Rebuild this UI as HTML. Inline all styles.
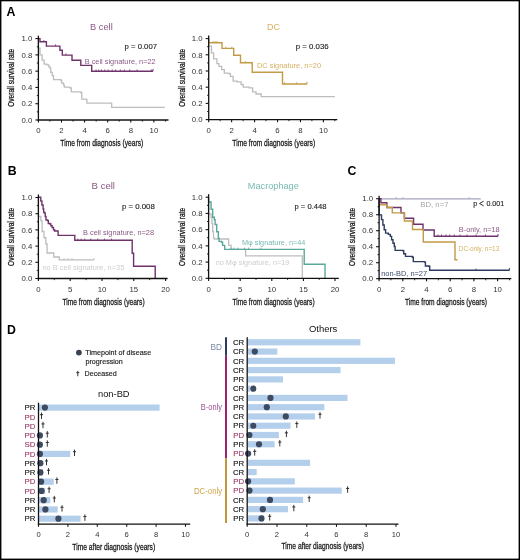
<!DOCTYPE html><html><head><meta charset="utf-8"><style>html,body{margin:0;padding:0;background:#fff;}svg{display:block;will-change:transform;}text{font-family:"Liberation Sans",sans-serif;}</style></head><body>
<svg width="520" height="560" viewBox="0 0 520 560">
<rect x="0" y="0" width="520" height="560" fill="#fff"/>
<text x="6.60" y="15.80" font-size="12.3" fill="#000" font-weight="bold">A</text>
<text x="7.80" y="174.70" font-size="12.3" fill="#000" font-weight="bold">B</text>
<text x="347.60" y="175.20" font-size="12.3" fill="#000" font-weight="bold">C</text>
<text x="7.00" y="333.60" font-size="12.3" fill="#000" font-weight="bold">D</text>
<text x="90.00" y="30.40" font-size="9.4" fill="#8a5884" textLength="22.70" lengthAdjust="spacingAndGlyphs">B cell</text>
<text x="124.60" y="48.70" font-size="7.4" fill="#222" textLength="32.40" lengthAdjust="spacingAndGlyphs" stroke="#222" stroke-width="0.12">p = 0.007</text>
<text x="84.70" y="63.70" font-size="7.4" fill="#8a5884" textLength="71.00" lengthAdjust="spacingAndGlyphs">B cell signature, n=22</text>
<path d="M38.40,38.60H38.40V48.10H40.00V54.80H42.10V60.20H44.10V64.20H46.80V64.90H48.80V66.90H50.10V68.30H50.80V72.30H52.20V75.70H53.50V79.70H60.90V80.40H61.60V83.10H63.60V85.10H64.30V87.10H69.60V87.80H71.30V91.80H80.40V92.50H81.80V99.20H86.50V99.90H86.90V103.20H111.70V103.20H111.70V107.30H164.80V107.30" fill="none" stroke="#bdbdbd" stroke-width="1.3" stroke-linejoin="miter" stroke-linecap="butt"/>
<path d="M38.40,38.60H40.00V38.60H40.00V41.80H46.40V41.80H46.40V46.10H59.90V46.10H59.90V50.20H62.30V50.20H62.30V55.10H72.00V55.10H72.00V60.30H80.80V60.30H80.80V65.40H91.70V65.40H91.70V71.20H153.00V71.20" fill="none" stroke="#70326a" stroke-width="1.4" stroke-linejoin="miter" stroke-linecap="butt"/>
<line x1="43.80" y1="40.00" x2="43.80" y2="41.80" stroke="#70326a" stroke-width="0.8"/>
<line x1="55.60" y1="44.30" x2="55.60" y2="46.10" stroke="#70326a" stroke-width="0.8"/>
<line x1="66.00" y1="53.30" x2="66.00" y2="55.10" stroke="#70326a" stroke-width="0.8"/>
<line x1="96.10" y1="69.40" x2="96.10" y2="71.20" stroke="#70326a" stroke-width="0.8"/>
<line x1="98.80" y1="69.40" x2="98.80" y2="71.20" stroke="#70326a" stroke-width="0.8"/>
<line x1="101.50" y1="69.40" x2="101.50" y2="71.20" stroke="#70326a" stroke-width="0.8"/>
<line x1="104.80" y1="69.40" x2="104.80" y2="71.20" stroke="#70326a" stroke-width="0.8"/>
<line x1="108.20" y1="69.40" x2="108.20" y2="71.20" stroke="#70326a" stroke-width="0.8"/>
<line x1="112.20" y1="69.40" x2="112.20" y2="71.20" stroke="#70326a" stroke-width="0.8"/>
<line x1="115.60" y1="69.40" x2="115.60" y2="71.20" stroke="#70326a" stroke-width="0.8"/>
<line x1="120.30" y1="69.40" x2="120.30" y2="71.20" stroke="#70326a" stroke-width="0.8"/>
<line x1="124.30" y1="69.40" x2="124.30" y2="71.20" stroke="#70326a" stroke-width="0.8"/>
<line x1="129.70" y1="69.40" x2="129.70" y2="71.20" stroke="#70326a" stroke-width="0.8"/>
<line x1="137.10" y1="69.40" x2="137.10" y2="71.20" stroke="#70326a" stroke-width="0.8"/>
<line x1="151.30" y1="69.40" x2="151.30" y2="71.20" stroke="#70326a" stroke-width="0.8"/>
<line x1="153.00" y1="69.00" x2="153.00" y2="71.20" stroke="#70326a" stroke-width="1.0"/>
<line x1="38.40" y1="35.60" x2="38.40" y2="120.60" stroke="#111" stroke-width="1.3"/>
<line x1="37.80" y1="120.00" x2="168.50" y2="120.00" stroke="#111" stroke-width="1.3"/>
<line x1="35.40" y1="120.00" x2="38.40" y2="120.00" stroke="#111" stroke-width="1.1"/>
<text x="32.30" y="122.75" font-size="7.8" fill="#333" text-anchor="end">0.0</text>
<line x1="36.80" y1="111.86" x2="38.40" y2="111.86" stroke="#111" stroke-width="0.9"/>
<line x1="35.40" y1="103.72" x2="38.40" y2="103.72" stroke="#111" stroke-width="1.1"/>
<text x="32.30" y="106.47" font-size="7.8" fill="#333" text-anchor="end">0.2</text>
<line x1="36.80" y1="95.58" x2="38.40" y2="95.58" stroke="#111" stroke-width="0.9"/>
<line x1="35.40" y1="87.44" x2="38.40" y2="87.44" stroke="#111" stroke-width="1.1"/>
<text x="32.30" y="90.19" font-size="7.8" fill="#333" text-anchor="end">0.4</text>
<line x1="36.80" y1="79.30" x2="38.40" y2="79.30" stroke="#111" stroke-width="0.9"/>
<line x1="35.40" y1="71.16" x2="38.40" y2="71.16" stroke="#111" stroke-width="1.1"/>
<text x="32.30" y="73.91" font-size="7.8" fill="#333" text-anchor="end">0.6</text>
<line x1="36.80" y1="63.02" x2="38.40" y2="63.02" stroke="#111" stroke-width="0.9"/>
<line x1="35.40" y1="54.88" x2="38.40" y2="54.88" stroke="#111" stroke-width="1.1"/>
<text x="32.30" y="57.63" font-size="7.8" fill="#333" text-anchor="end">0.8</text>
<line x1="36.80" y1="46.74" x2="38.40" y2="46.74" stroke="#111" stroke-width="0.9"/>
<line x1="35.40" y1="38.60" x2="38.40" y2="38.60" stroke="#111" stroke-width="1.1"/>
<text x="32.30" y="41.35" font-size="7.8" fill="#333" text-anchor="end">1.0</text>
<line x1="38.40" y1="120.00" x2="38.40" y2="122.60" stroke="#111" stroke-width="1.1"/>
<text x="38.40" y="133.40" font-size="7.8" fill="#333" text-anchor="middle">0</text>
<line x1="49.95" y1="120.00" x2="49.95" y2="121.60" stroke="#111" stroke-width="0.9"/>
<line x1="61.50" y1="120.00" x2="61.50" y2="122.60" stroke="#111" stroke-width="1.1"/>
<text x="61.50" y="133.40" font-size="7.8" fill="#333" text-anchor="middle">2</text>
<line x1="73.05" y1="120.00" x2="73.05" y2="121.60" stroke="#111" stroke-width="0.9"/>
<line x1="84.60" y1="120.00" x2="84.60" y2="122.60" stroke="#111" stroke-width="1.1"/>
<text x="84.60" y="133.40" font-size="7.8" fill="#333" text-anchor="middle">4</text>
<line x1="96.15" y1="120.00" x2="96.15" y2="121.60" stroke="#111" stroke-width="0.9"/>
<line x1="107.70" y1="120.00" x2="107.70" y2="122.60" stroke="#111" stroke-width="1.1"/>
<text x="107.70" y="133.40" font-size="7.8" fill="#333" text-anchor="middle">6</text>
<line x1="119.25" y1="120.00" x2="119.25" y2="121.60" stroke="#111" stroke-width="0.9"/>
<line x1="130.80" y1="120.00" x2="130.80" y2="122.60" stroke="#111" stroke-width="1.1"/>
<text x="130.80" y="133.40" font-size="7.8" fill="#333" text-anchor="middle">8</text>
<line x1="142.35" y1="120.00" x2="142.35" y2="121.60" stroke="#111" stroke-width="0.9"/>
<line x1="153.90" y1="120.00" x2="153.90" y2="122.60" stroke="#111" stroke-width="1.1"/>
<text x="153.90" y="133.40" font-size="7.8" fill="#333" text-anchor="middle">10</text>
<line x1="165.45" y1="120.00" x2="165.45" y2="121.60" stroke="#111" stroke-width="0.9"/>
<text x="60.30" y="146.40" font-size="9.6" fill="#1a1a1a" textLength="83.00" lengthAdjust="spacingAndGlyphs" stroke="#1a1a1a" stroke-width="0.3">Time from diagnosis (years)</text>
<text x="0" y="0" font-size="9.6" fill="#1a1a1a" stroke="#1a1a1a" stroke-width="0.3" text-anchor="middle" textLength="58.05" lengthAdjust="spacingAndGlyphs" transform="translate(14.10,77.78) rotate(-90)">Overall survival rate</text>
<text x="267.10" y="30.20" font-size="9.4" fill="#d6b062" textLength="12.90" lengthAdjust="spacingAndGlyphs">DC</text>
<text x="295.80" y="49.00" font-size="7.4" fill="#222" textLength="32.90" lengthAdjust="spacingAndGlyphs" stroke="#222" stroke-width="0.12">p = 0.036</text>
<text x="257.00" y="68.00" font-size="7.4" fill="#d6b062" textLength="64.00" lengthAdjust="spacingAndGlyphs">DC signature, n=20</text>
<path d="M208.70,38.60H208.70V46.20H211.50V52.90H213.60V58.90H216.90V63.60H218.90V66.30H221.60V69.70H224.30V73.10H229.00V73.70H230.40V76.40H233.10V81.10H237.10V81.80H241.10V84.50H243.20V87.20H249.20V87.90H252.60V91.90H256.00V94.00H261.20V96.60H334.80V96.60" fill="none" stroke="#bdbdbd" stroke-width="1.3" stroke-linejoin="miter" stroke-linecap="butt"/>
<path d="M208.70,38.60H208.70V42.80H222.00V42.80H222.00V48.40H233.70V48.40H233.70V55.30H240.50V55.30H240.50V62.70H252.20V62.70H252.20V72.30H282.50V72.30H282.50V84.00H307.00V84.00" fill="none" stroke="#c39a48" stroke-width="1.4" stroke-linejoin="miter" stroke-linecap="butt"/>
<line x1="213.00" y1="41.00" x2="213.00" y2="42.80" stroke="#c39a48" stroke-width="0.8"/>
<line x1="215.00" y1="41.00" x2="215.00" y2="42.80" stroke="#c39a48" stroke-width="0.8"/>
<line x1="217.00" y1="41.00" x2="217.00" y2="42.80" stroke="#c39a48" stroke-width="0.8"/>
<line x1="225.90" y1="46.60" x2="225.90" y2="48.40" stroke="#c39a48" stroke-width="0.8"/>
<line x1="231.90" y1="46.60" x2="231.90" y2="48.40" stroke="#c39a48" stroke-width="0.8"/>
<line x1="245.40" y1="60.90" x2="245.40" y2="62.70" stroke="#c39a48" stroke-width="0.8"/>
<line x1="284.60" y1="82.20" x2="284.60" y2="84.00" stroke="#c39a48" stroke-width="0.8"/>
<line x1="296.70" y1="82.20" x2="296.70" y2="84.00" stroke="#c39a48" stroke-width="0.8"/>
<line x1="307.00" y1="81.80" x2="307.00" y2="84.00" stroke="#c39a48" stroke-width="1.0"/>
<line x1="208.70" y1="35.60" x2="208.70" y2="120.20" stroke="#111" stroke-width="1.3"/>
<line x1="208.10" y1="119.60" x2="337.30" y2="119.60" stroke="#111" stroke-width="1.3"/>
<line x1="205.70" y1="119.60" x2="208.70" y2="119.60" stroke="#111" stroke-width="1.1"/>
<text x="202.60" y="122.35" font-size="7.8" fill="#333" text-anchor="end">0.0</text>
<line x1="207.10" y1="111.50" x2="208.70" y2="111.50" stroke="#111" stroke-width="0.9"/>
<line x1="205.70" y1="103.40" x2="208.70" y2="103.40" stroke="#111" stroke-width="1.1"/>
<text x="202.60" y="106.15" font-size="7.8" fill="#333" text-anchor="end">0.2</text>
<line x1="207.10" y1="95.30" x2="208.70" y2="95.30" stroke="#111" stroke-width="0.9"/>
<line x1="205.70" y1="87.20" x2="208.70" y2="87.20" stroke="#111" stroke-width="1.1"/>
<text x="202.60" y="89.95" font-size="7.8" fill="#333" text-anchor="end">0.4</text>
<line x1="207.10" y1="79.10" x2="208.70" y2="79.10" stroke="#111" stroke-width="0.9"/>
<line x1="205.70" y1="71.00" x2="208.70" y2="71.00" stroke="#111" stroke-width="1.1"/>
<text x="202.60" y="73.75" font-size="7.8" fill="#333" text-anchor="end">0.6</text>
<line x1="207.10" y1="62.90" x2="208.70" y2="62.90" stroke="#111" stroke-width="0.9"/>
<line x1="205.70" y1="54.80" x2="208.70" y2="54.80" stroke="#111" stroke-width="1.1"/>
<text x="202.60" y="57.55" font-size="7.8" fill="#333" text-anchor="end">0.8</text>
<line x1="207.10" y1="46.70" x2="208.70" y2="46.70" stroke="#111" stroke-width="0.9"/>
<line x1="205.70" y1="38.60" x2="208.70" y2="38.60" stroke="#111" stroke-width="1.1"/>
<text x="202.60" y="41.35" font-size="7.8" fill="#333" text-anchor="end">1.0</text>
<line x1="208.70" y1="119.60" x2="208.70" y2="122.20" stroke="#111" stroke-width="1.1"/>
<text x="208.70" y="133.00" font-size="7.8" fill="#333" text-anchor="middle">0</text>
<line x1="220.17" y1="119.60" x2="220.17" y2="121.20" stroke="#111" stroke-width="0.9"/>
<line x1="231.64" y1="119.60" x2="231.64" y2="122.20" stroke="#111" stroke-width="1.1"/>
<text x="231.64" y="133.00" font-size="7.8" fill="#333" text-anchor="middle">2</text>
<line x1="243.11" y1="119.60" x2="243.11" y2="121.20" stroke="#111" stroke-width="0.9"/>
<line x1="254.58" y1="119.60" x2="254.58" y2="122.20" stroke="#111" stroke-width="1.1"/>
<text x="254.58" y="133.00" font-size="7.8" fill="#333" text-anchor="middle">4</text>
<line x1="266.05" y1="119.60" x2="266.05" y2="121.20" stroke="#111" stroke-width="0.9"/>
<line x1="277.52" y1="119.60" x2="277.52" y2="122.20" stroke="#111" stroke-width="1.1"/>
<text x="277.52" y="133.00" font-size="7.8" fill="#333" text-anchor="middle">6</text>
<line x1="288.99" y1="119.60" x2="288.99" y2="121.20" stroke="#111" stroke-width="0.9"/>
<line x1="300.46" y1="119.60" x2="300.46" y2="122.20" stroke="#111" stroke-width="1.1"/>
<text x="300.46" y="133.00" font-size="7.8" fill="#333" text-anchor="middle">8</text>
<line x1="311.93" y1="119.60" x2="311.93" y2="121.20" stroke="#111" stroke-width="0.9"/>
<line x1="323.40" y1="119.60" x2="323.40" y2="122.20" stroke="#111" stroke-width="1.1"/>
<text x="323.40" y="133.00" font-size="7.8" fill="#333" text-anchor="middle">10</text>
<line x1="334.87" y1="119.60" x2="334.87" y2="121.20" stroke="#111" stroke-width="0.9"/>
<text x="232.30" y="146.20" font-size="9.6" fill="#1a1a1a" textLength="82.90" lengthAdjust="spacingAndGlyphs" stroke="#1a1a1a" stroke-width="0.3">Time from diagnosis (years)</text>
<text x="0" y="0" font-size="9.6" fill="#1a1a1a" stroke="#1a1a1a" stroke-width="0.3" text-anchor="middle" textLength="58.05" lengthAdjust="spacingAndGlyphs" transform="translate(185.20,77.78) rotate(-90)">Overall survival rate</text>
<text x="91.60" y="189.00" font-size="9.4" fill="#8a5884" textLength="23.40" lengthAdjust="spacingAndGlyphs">B cell</text>
<text x="121.90" y="209.00" font-size="7.4" fill="#222" textLength="32.90" lengthAdjust="spacingAndGlyphs" stroke="#222" stroke-width="0.12">p = 0.008</text>
<text x="83.00" y="234.90" font-size="7.4" fill="#8a5884" textLength="71.00" lengthAdjust="spacingAndGlyphs">B cell signature, n=28</text>
<text x="42.50" y="270.20" font-size="7.4" fill="#cdcdcd" textLength="81.80" lengthAdjust="spacingAndGlyphs">no B cell signature, n=35</text>
<path d="M38.40,197.50H38.40V216.50H40.90V220.90H42.10V231.50H44.00V237.75H45.90V244.00H47.10V253.00H53.80V253.00H53.80V257.00H59.20V257.00H59.20V259.80H94.20V259.80" fill="none" stroke="#bdbdbd" stroke-width="1.3" stroke-linejoin="miter" stroke-linecap="butt"/>
<line x1="64.00" y1="258.00" x2="64.00" y2="259.80" stroke="#bdbdbd" stroke-width="0.8"/>
<line x1="68.00" y1="258.00" x2="68.00" y2="259.80" stroke="#bdbdbd" stroke-width="0.8"/>
<line x1="72.00" y1="258.00" x2="72.00" y2="259.80" stroke="#bdbdbd" stroke-width="0.8"/>
<line x1="94.20" y1="258.00" x2="94.20" y2="259.80" stroke="#bdbdbd" stroke-width="0.8"/>
<path d="M38.40,197.30H39.80V197.30H40.80V201.00H41.90V205.00H43.10V209.00H43.70V212.50H44.80V213.10H45.20V216.50H46.00V220.00H47.70V220.60H48.30V223.50H50.00V224.00H50.90V225.80H52.10V227.50H53.50V229.80H54.60V231.00H57.50V231.00H58.10V235.40H74.80V235.40H74.80V240.30H132.20V240.30H132.20V253.30H133.60V253.30H133.60V266.20H155.20V266.20H155.20V278.40" fill="none" stroke="#70326a" stroke-width="1.4" stroke-linejoin="miter" stroke-linecap="butt"/>
<line x1="77.80" y1="238.50" x2="77.80" y2="240.30" stroke="#70326a" stroke-width="0.8"/>
<line x1="81.20" y1="238.50" x2="81.20" y2="240.30" stroke="#70326a" stroke-width="0.8"/>
<line x1="84.70" y1="238.50" x2="84.70" y2="240.30" stroke="#70326a" stroke-width="0.8"/>
<line x1="90.80" y1="238.50" x2="90.80" y2="240.30" stroke="#70326a" stroke-width="0.8"/>
<line x1="97.70" y1="238.50" x2="97.70" y2="240.30" stroke="#70326a" stroke-width="0.8"/>
<line x1="104.60" y1="238.50" x2="104.60" y2="240.30" stroke="#70326a" stroke-width="0.8"/>
<line x1="111.50" y1="238.50" x2="111.50" y2="240.30" stroke="#70326a" stroke-width="0.8"/>
<line x1="38.40" y1="194.50" x2="38.40" y2="279.10" stroke="#111" stroke-width="1.3"/>
<line x1="37.80" y1="278.50" x2="167.60" y2="278.50" stroke="#111" stroke-width="1.3"/>
<line x1="35.40" y1="278.50" x2="38.40" y2="278.50" stroke="#111" stroke-width="1.1"/>
<text x="32.30" y="281.25" font-size="7.8" fill="#333" text-anchor="end">0.0</text>
<line x1="36.80" y1="270.40" x2="38.40" y2="270.40" stroke="#111" stroke-width="0.9"/>
<line x1="35.40" y1="262.30" x2="38.40" y2="262.30" stroke="#111" stroke-width="1.1"/>
<text x="32.30" y="265.05" font-size="7.8" fill="#333" text-anchor="end">0.2</text>
<line x1="36.80" y1="254.20" x2="38.40" y2="254.20" stroke="#111" stroke-width="0.9"/>
<line x1="35.40" y1="246.10" x2="38.40" y2="246.10" stroke="#111" stroke-width="1.1"/>
<text x="32.30" y="248.85" font-size="7.8" fill="#333" text-anchor="end">0.4</text>
<line x1="36.80" y1="238.00" x2="38.40" y2="238.00" stroke="#111" stroke-width="0.9"/>
<line x1="35.40" y1="229.90" x2="38.40" y2="229.90" stroke="#111" stroke-width="1.1"/>
<text x="32.30" y="232.65" font-size="7.8" fill="#333" text-anchor="end">0.6</text>
<line x1="36.80" y1="221.80" x2="38.40" y2="221.80" stroke="#111" stroke-width="0.9"/>
<line x1="35.40" y1="213.70" x2="38.40" y2="213.70" stroke="#111" stroke-width="1.1"/>
<text x="32.30" y="216.45" font-size="7.8" fill="#333" text-anchor="end">0.8</text>
<line x1="36.80" y1="205.60" x2="38.40" y2="205.60" stroke="#111" stroke-width="0.9"/>
<line x1="35.40" y1="197.50" x2="38.40" y2="197.50" stroke="#111" stroke-width="1.1"/>
<text x="32.30" y="200.25" font-size="7.8" fill="#333" text-anchor="end">1.0</text>
<line x1="38.40" y1="278.50" x2="38.40" y2="281.10" stroke="#111" stroke-width="1.1"/>
<text x="38.40" y="291.90" font-size="7.8" fill="#333" text-anchor="middle">0</text>
<line x1="54.30" y1="278.50" x2="54.30" y2="280.10" stroke="#111" stroke-width="0.9"/>
<line x1="70.20" y1="278.50" x2="70.20" y2="281.10" stroke="#111" stroke-width="1.1"/>
<text x="70.20" y="291.90" font-size="7.8" fill="#333" text-anchor="middle">5</text>
<line x1="86.10" y1="278.50" x2="86.10" y2="280.10" stroke="#111" stroke-width="0.9"/>
<line x1="102.00" y1="278.50" x2="102.00" y2="281.10" stroke="#111" stroke-width="1.1"/>
<text x="102.00" y="291.90" font-size="7.8" fill="#333" text-anchor="middle">10</text>
<line x1="117.90" y1="278.50" x2="117.90" y2="280.10" stroke="#111" stroke-width="0.9"/>
<line x1="133.80" y1="278.50" x2="133.80" y2="281.10" stroke="#111" stroke-width="1.1"/>
<text x="133.80" y="291.90" font-size="7.8" fill="#333" text-anchor="middle">15</text>
<line x1="149.70" y1="278.50" x2="149.70" y2="280.10" stroke="#111" stroke-width="0.9"/>
<line x1="165.60" y1="278.50" x2="165.60" y2="281.10" stroke="#111" stroke-width="1.1"/>
<text x="165.60" y="291.90" font-size="7.8" fill="#333" text-anchor="middle">20</text>
<text x="62.50" y="305.20" font-size="9.6" fill="#1a1a1a" textLength="82.10" lengthAdjust="spacingAndGlyphs" stroke="#1a1a1a" stroke-width="0.3">Time from diagnosis (years)</text>
<text x="0" y="0" font-size="9.6" fill="#1a1a1a" stroke="#1a1a1a" stroke-width="0.3" text-anchor="middle" textLength="58.00" lengthAdjust="spacingAndGlyphs" transform="translate(14.10,236.90) rotate(-90)">Overall survival rate</text>
<text x="247.80" y="188.80" font-size="9.4" fill="#78bab2" textLength="51.00" lengthAdjust="spacingAndGlyphs">Macrophage</text>
<text x="294.50" y="208.70" font-size="7.4" fill="#222" textLength="32.00" lengthAdjust="spacingAndGlyphs" stroke="#222" stroke-width="0.12">p = 0.448</text>
<text x="242.00" y="244.60" font-size="7.4" fill="#78bab2" textLength="63.40" lengthAdjust="spacingAndGlyphs">Mφ signature, n=44</text>
<text x="215.70" y="264.70" font-size="7.4" fill="#cdcdcd" textLength="73.70" lengthAdjust="spacingAndGlyphs">no Mφ signature, n=19</text>
<path d="M208.60,197.20H208.60V214.00H211.10V217.30H211.90V223.70H212.70V231.70H213.50V238.20H214.30V239.00H228.70V239.00H228.70V245.40H231.10V249.40H245.60V249.40H245.60V255.80H302.30V255.80H302.30V278.30" fill="none" stroke="#bdbdbd" stroke-width="1.3" stroke-linejoin="miter" stroke-linecap="butt"/>
<path d="M208.60,197.20H208.60V202.00H211.10V209.30H212.70V217.30H214.30V219.70H215.10V224.50H216.70V231.70H218.30V238.20H219.10V241.40H221.50V242.20H222.60V245.40H224.70V249.40H304.20V249.40H304.20V264.20H325.00V264.20H325.00V278.30" fill="none" stroke="#5aa79c" stroke-width="1.4" stroke-linejoin="miter" stroke-linecap="butt"/>
<line x1="230.80" y1="247.60" x2="230.80" y2="249.40" stroke="#5aa79c" stroke-width="0.8"/>
<line x1="233.80" y1="247.60" x2="233.80" y2="249.40" stroke="#5aa79c" stroke-width="0.8"/>
<line x1="237.70" y1="247.60" x2="237.70" y2="249.40" stroke="#5aa79c" stroke-width="0.8"/>
<line x1="244.60" y1="247.60" x2="244.60" y2="249.40" stroke="#5aa79c" stroke-width="0.8"/>
<line x1="248.50" y1="247.60" x2="248.50" y2="249.40" stroke="#5aa79c" stroke-width="0.8"/>
<line x1="260.80" y1="247.60" x2="260.80" y2="249.40" stroke="#5aa79c" stroke-width="0.8"/>
<line x1="208.60" y1="194.20" x2="208.60" y2="278.90" stroke="#111" stroke-width="1.3"/>
<line x1="208.00" y1="278.30" x2="338.80" y2="278.30" stroke="#111" stroke-width="1.3"/>
<line x1="205.60" y1="278.30" x2="208.60" y2="278.30" stroke="#111" stroke-width="1.1"/>
<text x="202.60" y="281.05" font-size="7.8" fill="#333" text-anchor="end">0.0</text>
<line x1="207.00" y1="270.19" x2="208.60" y2="270.19" stroke="#111" stroke-width="0.9"/>
<line x1="205.60" y1="262.08" x2="208.60" y2="262.08" stroke="#111" stroke-width="1.1"/>
<text x="202.60" y="264.83" font-size="7.8" fill="#333" text-anchor="end">0.2</text>
<line x1="207.00" y1="253.97" x2="208.60" y2="253.97" stroke="#111" stroke-width="0.9"/>
<line x1="205.60" y1="245.86" x2="208.60" y2="245.86" stroke="#111" stroke-width="1.1"/>
<text x="202.60" y="248.61" font-size="7.8" fill="#333" text-anchor="end">0.4</text>
<line x1="207.00" y1="237.75" x2="208.60" y2="237.75" stroke="#111" stroke-width="0.9"/>
<line x1="205.60" y1="229.64" x2="208.60" y2="229.64" stroke="#111" stroke-width="1.1"/>
<text x="202.60" y="232.39" font-size="7.8" fill="#333" text-anchor="end">0.6</text>
<line x1="207.00" y1="221.53" x2="208.60" y2="221.53" stroke="#111" stroke-width="0.9"/>
<line x1="205.60" y1="213.42" x2="208.60" y2="213.42" stroke="#111" stroke-width="1.1"/>
<text x="202.60" y="216.17" font-size="7.8" fill="#333" text-anchor="end">0.8</text>
<line x1="207.00" y1="205.31" x2="208.60" y2="205.31" stroke="#111" stroke-width="0.9"/>
<line x1="205.60" y1="197.20" x2="208.60" y2="197.20" stroke="#111" stroke-width="1.1"/>
<text x="202.60" y="199.95" font-size="7.8" fill="#333" text-anchor="end">1.0</text>
<line x1="208.60" y1="278.30" x2="208.60" y2="280.90" stroke="#111" stroke-width="1.1"/>
<text x="208.60" y="291.70" font-size="7.8" fill="#333" text-anchor="middle">0</text>
<line x1="224.40" y1="278.30" x2="224.40" y2="279.90" stroke="#111" stroke-width="0.9"/>
<line x1="240.20" y1="278.30" x2="240.20" y2="280.90" stroke="#111" stroke-width="1.1"/>
<text x="240.20" y="291.70" font-size="7.8" fill="#333" text-anchor="middle">5</text>
<line x1="256.00" y1="278.30" x2="256.00" y2="279.90" stroke="#111" stroke-width="0.9"/>
<line x1="271.80" y1="278.30" x2="271.80" y2="280.90" stroke="#111" stroke-width="1.1"/>
<text x="271.80" y="291.70" font-size="7.8" fill="#333" text-anchor="middle">10</text>
<line x1="287.60" y1="278.30" x2="287.60" y2="279.90" stroke="#111" stroke-width="0.9"/>
<line x1="303.40" y1="278.30" x2="303.40" y2="280.90" stroke="#111" stroke-width="1.1"/>
<text x="303.40" y="291.70" font-size="7.8" fill="#333" text-anchor="middle">15</text>
<line x1="319.20" y1="278.30" x2="319.20" y2="279.90" stroke="#111" stroke-width="0.9"/>
<line x1="335.00" y1="278.30" x2="335.00" y2="280.90" stroke="#111" stroke-width="1.1"/>
<text x="335.00" y="291.70" font-size="7.8" fill="#333" text-anchor="middle">20</text>
<text x="232.50" y="305.20" font-size="9.6" fill="#1a1a1a" textLength="82.10" lengthAdjust="spacingAndGlyphs" stroke="#1a1a1a" stroke-width="0.3">Time from diagnosis (years)</text>
<text x="0" y="0" font-size="9.6" fill="#1a1a1a" stroke="#1a1a1a" stroke-width="0.3" text-anchor="middle" textLength="58.00" lengthAdjust="spacingAndGlyphs" transform="translate(185.20,236.90) rotate(-90)">Overall survival rate</text>
<line x1="379.10" y1="198.80" x2="480.80" y2="198.80" stroke="#a3a4c0" stroke-width="1.3"/>
<line x1="396.30" y1="197.00" x2="396.30" y2="198.80" stroke="#a3a4c0" stroke-width="0.8"/>
<line x1="403.00" y1="197.00" x2="403.00" y2="198.80" stroke="#a3a4c0" stroke-width="0.8"/>
<line x1="469.20" y1="197.00" x2="469.20" y2="198.80" stroke="#a3a4c0" stroke-width="0.8"/>
<text x="420.30" y="207.30" font-size="7.4" fill="#a8a8a8" textLength="28.20" lengthAdjust="spacingAndGlyphs">BD, n=7</text>
<text x="473.20" y="205.70" font-size="7.4" fill="#222" stroke="#222" stroke-width="0.12">p</text>
<path d="M483.6,201.2L479.5,203.5L483.6,205.8" fill="none" stroke="#222" stroke-width="0.95"/>
<text x="486.40" y="205.70" font-size="7.4" fill="#222" textLength="17.80" lengthAdjust="spacingAndGlyphs" stroke="#222" stroke-width="0.12">0.001</text>
<text x="458.80" y="231.50" font-size="7.4" fill="#8a5884" textLength="40.90" lengthAdjust="spacingAndGlyphs">B-only, n=18</text>
<text x="458.80" y="251.20" font-size="7.4" fill="#d6b062" textLength="40.40" lengthAdjust="spacingAndGlyphs">DC-only, n=13</text>
<text x="381.20" y="276.30" font-size="7.4" fill="#3b4a6e" textLength="45.90" lengthAdjust="spacingAndGlyphs">non-BD, n=27</text>
<path d="M379.10,198.70H380.90V202.80H386.90V207.50H401.00V212.90H404.40V218.30H413.60V224.30H423.00V230.00H434.20V236.20H498.10V236.20" fill="none" stroke="#70326a" stroke-width="1.4" stroke-linejoin="miter" stroke-linecap="butt"/>
<line x1="438.00" y1="234.40" x2="438.00" y2="236.20" stroke="#70326a" stroke-width="0.8"/>
<line x1="441.50" y1="234.40" x2="441.50" y2="236.20" stroke="#70326a" stroke-width="0.8"/>
<line x1="446.00" y1="234.40" x2="446.00" y2="236.20" stroke="#70326a" stroke-width="0.8"/>
<line x1="449.60" y1="234.40" x2="449.60" y2="236.20" stroke="#70326a" stroke-width="0.8"/>
<line x1="454.20" y1="234.40" x2="454.20" y2="236.20" stroke="#70326a" stroke-width="0.8"/>
<line x1="460.00" y1="234.40" x2="460.00" y2="236.20" stroke="#70326a" stroke-width="0.8"/>
<line x1="467.00" y1="234.40" x2="467.00" y2="236.20" stroke="#70326a" stroke-width="0.8"/>
<line x1="476.00" y1="234.40" x2="476.00" y2="236.20" stroke="#70326a" stroke-width="0.8"/>
<line x1="485.40" y1="234.40" x2="485.40" y2="236.20" stroke="#70326a" stroke-width="0.8"/>
<line x1="498.00" y1="234.00" x2="498.00" y2="236.20" stroke="#70326a" stroke-width="1.0"/>
<path d="M379.10,198.70H379.10V204.80H386.90V207.50H392.30V212.90H404.40V221.00H412.50V229.50H423.30V242.00H455.00V259.80H457.50V259.80" fill="none" stroke="#c39a48" stroke-width="1.4" stroke-linejoin="miter" stroke-linecap="butt"/>
<path d="M379.10,198.70H379.10V214.90H381.50V219.60H382.90V225.00H384.20V229.70H385.60V233.10H388.30V234.40H390.30V236.40H391.60V239.80H393.00V243.20H394.30V246.50H395.10V250.40H402.90V250.70H403.70V253.80H405.50V256.40H412.40V257.30H413.30V261.60H424.50V262.10H425.40V266.00H428.80V266.30H429.70V270.30H509.60V270.30" fill="none" stroke="#2c3b5e" stroke-width="1.4" stroke-linejoin="miter" stroke-linecap="butt"/>
<line x1="476.00" y1="268.50" x2="476.00" y2="270.30" stroke="#2c3b5e" stroke-width="0.8"/>
<line x1="509.40" y1="268.10" x2="509.40" y2="270.30" stroke="#2c3b5e" stroke-width="1.0"/>
<line x1="379.10" y1="195.70" x2="379.10" y2="279.30" stroke="#111" stroke-width="1.3"/>
<line x1="378.50" y1="278.70" x2="511.30" y2="278.70" stroke="#111" stroke-width="1.3"/>
<line x1="376.10" y1="278.70" x2="379.10" y2="278.70" stroke="#111" stroke-width="1.1"/>
<text x="373.20" y="281.45" font-size="7.8" fill="#333" text-anchor="end">0.0</text>
<line x1="377.50" y1="270.70" x2="379.10" y2="270.70" stroke="#111" stroke-width="0.9"/>
<line x1="376.10" y1="262.70" x2="379.10" y2="262.70" stroke="#111" stroke-width="1.1"/>
<text x="373.20" y="265.45" font-size="7.8" fill="#333" text-anchor="end">0.2</text>
<line x1="377.50" y1="254.70" x2="379.10" y2="254.70" stroke="#111" stroke-width="0.9"/>
<line x1="376.10" y1="246.70" x2="379.10" y2="246.70" stroke="#111" stroke-width="1.1"/>
<text x="373.20" y="249.45" font-size="7.8" fill="#333" text-anchor="end">0.4</text>
<line x1="377.50" y1="238.70" x2="379.10" y2="238.70" stroke="#111" stroke-width="0.9"/>
<line x1="376.10" y1="230.70" x2="379.10" y2="230.70" stroke="#111" stroke-width="1.1"/>
<text x="373.20" y="233.45" font-size="7.8" fill="#333" text-anchor="end">0.6</text>
<line x1="377.50" y1="222.70" x2="379.10" y2="222.70" stroke="#111" stroke-width="0.9"/>
<line x1="376.10" y1="214.70" x2="379.10" y2="214.70" stroke="#111" stroke-width="1.1"/>
<text x="373.20" y="217.45" font-size="7.8" fill="#333" text-anchor="end">0.8</text>
<line x1="377.50" y1="206.70" x2="379.10" y2="206.70" stroke="#111" stroke-width="0.9"/>
<line x1="376.10" y1="198.70" x2="379.10" y2="198.70" stroke="#111" stroke-width="1.1"/>
<text x="373.20" y="201.45" font-size="7.8" fill="#333" text-anchor="end">1.0</text>
<line x1="379.10" y1="278.70" x2="379.10" y2="281.30" stroke="#111" stroke-width="1.1"/>
<text x="379.10" y="292.10" font-size="7.8" fill="#333" text-anchor="middle">0</text>
<line x1="390.95" y1="278.70" x2="390.95" y2="280.30" stroke="#111" stroke-width="0.9"/>
<line x1="402.80" y1="278.70" x2="402.80" y2="281.30" stroke="#111" stroke-width="1.1"/>
<text x="402.80" y="292.10" font-size="7.8" fill="#333" text-anchor="middle">2</text>
<line x1="414.65" y1="278.70" x2="414.65" y2="280.30" stroke="#111" stroke-width="0.9"/>
<line x1="426.50" y1="278.70" x2="426.50" y2="281.30" stroke="#111" stroke-width="1.1"/>
<text x="426.50" y="292.10" font-size="7.8" fill="#333" text-anchor="middle">4</text>
<line x1="438.35" y1="278.70" x2="438.35" y2="280.30" stroke="#111" stroke-width="0.9"/>
<line x1="450.20" y1="278.70" x2="450.20" y2="281.30" stroke="#111" stroke-width="1.1"/>
<text x="450.20" y="292.10" font-size="7.8" fill="#333" text-anchor="middle">6</text>
<line x1="462.05" y1="278.70" x2="462.05" y2="280.30" stroke="#111" stroke-width="0.9"/>
<line x1="473.90" y1="278.70" x2="473.90" y2="281.30" stroke="#111" stroke-width="1.1"/>
<text x="473.90" y="292.10" font-size="7.8" fill="#333" text-anchor="middle">8</text>
<line x1="485.75" y1="278.70" x2="485.75" y2="280.30" stroke="#111" stroke-width="0.9"/>
<line x1="497.60" y1="278.70" x2="497.60" y2="281.30" stroke="#111" stroke-width="1.1"/>
<text x="497.60" y="292.10" font-size="7.8" fill="#333" text-anchor="middle">10</text>
<line x1="509.45" y1="278.70" x2="509.45" y2="280.30" stroke="#111" stroke-width="0.9"/>
<text x="405.00" y="305.00" font-size="9.6" fill="#1a1a1a" textLength="82.00" lengthAdjust="spacingAndGlyphs" stroke="#1a1a1a" stroke-width="0.3">Time from diagnosis (years)</text>
<text x="0" y="0" font-size="9.6" fill="#1a1a1a" stroke="#1a1a1a" stroke-width="0.3" text-anchor="middle" textLength="58.00" lengthAdjust="spacingAndGlyphs" transform="translate(355.20,236.90) rotate(-90)">Overall survival rate</text>
<circle cx="78.9" cy="352.6" r="2.9" fill="#3a4252"/>
<text x="85.30" y="354.90" font-size="7.15" fill="#222" textLength="65.90" lengthAdjust="spacingAndGlyphs" stroke="#222" stroke-width="0.15">Timepoint of disease</text>
<text x="85.50" y="363.60" font-size="7.15" fill="#222" textLength="37.30" lengthAdjust="spacingAndGlyphs" stroke="#222" stroke-width="0.15">progression</text>
<path d="M77.80,370.88V376.28M76.25,372.66H79.35" stroke="#2a2a2a" stroke-width="0.95" fill="none"/>
<text x="84.60" y="376.20" font-size="7.15" fill="#222" textLength="32.10" lengthAdjust="spacingAndGlyphs" stroke="#222" stroke-width="0.15">Deceased</text>
<text x="98.00" y="397.30" font-size="9.6" fill="#111" textLength="31.60" lengthAdjust="spacingAndGlyphs">non-BD</text>
<text x="35.40" y="410.35" font-size="7.8" fill="#222" text-anchor="end" stroke="#222" stroke-width="0.18">PR</text>
<rect x="39.00" y="404.50" width="120.60" height="6.2" fill="#b4cfec"/>
<text x="35.40" y="419.61" font-size="7.8" fill="#a4446f" text-anchor="end" stroke="#a4446f" stroke-width="0.18">PD</text>
<text x="35.40" y="428.87" font-size="7.8" fill="#a4446f" text-anchor="end" stroke="#a4446f" stroke-width="0.18">PD</text>
<text x="35.40" y="438.13" font-size="7.8" fill="#a4446f" text-anchor="end" stroke="#a4446f" stroke-width="0.18">PD</text>
<text x="35.40" y="447.39" font-size="7.8" fill="#a4446f" text-anchor="end" stroke="#a4446f" stroke-width="0.18">SD</text>
<text x="35.40" y="456.65" font-size="7.8" fill="#a4446f" text-anchor="end" stroke="#a4446f" stroke-width="0.18">PD</text>
<rect x="39.00" y="450.80" width="31.20" height="6.2" fill="#b4cfec"/>
<text x="35.40" y="465.91" font-size="7.8" fill="#222" text-anchor="end" stroke="#222" stroke-width="0.18">PR</text>
<text x="35.40" y="475.17" font-size="7.8" fill="#222" text-anchor="end" stroke="#222" stroke-width="0.18">PR</text>
<rect x="39.00" y="469.32" width="4.00" height="6.2" fill="#b4cfec"/>
<text x="35.40" y="484.43" font-size="7.8" fill="#a4446f" text-anchor="end" stroke="#a4446f" stroke-width="0.18">PD</text>
<rect x="39.00" y="478.58" width="14.70" height="6.2" fill="#b4cfec"/>
<text x="35.40" y="493.69" font-size="7.8" fill="#a4446f" text-anchor="end" stroke="#a4446f" stroke-width="0.18">PD</text>
<rect x="39.00" y="487.84" width="6.10" height="6.2" fill="#b4cfec"/>
<text x="35.40" y="502.95" font-size="7.8" fill="#222" text-anchor="end" stroke="#222" stroke-width="0.18">PR</text>
<rect x="39.00" y="497.10" width="11.30" height="6.2" fill="#b4cfec"/>
<text x="35.40" y="512.21" font-size="7.8" fill="#222" text-anchor="end" stroke="#222" stroke-width="0.18">PR</text>
<rect x="39.00" y="506.36" width="18.70" height="6.2" fill="#b4cfec"/>
<text x="35.40" y="521.47" font-size="7.8" fill="#222" text-anchor="end" stroke="#222" stroke-width="0.18">PR</text>
<rect x="39.00" y="515.62" width="41.60" height="6.2" fill="#b4cfec"/>
<circle cx="44.90" cy="407.60" r="3.1" fill="#3d4a60"/>
<path d="M41.50,412.58V418.98M39.95,414.69H43.05" stroke="#2a2a2a" stroke-width="0.95" fill="none"/>
<path d="M43.00,421.84V428.24M41.45,423.95H44.55" stroke="#2a2a2a" stroke-width="0.95" fill="none"/>
<circle cx="39.90" cy="435.38" r="3.1" fill="#3d4a60"/>
<path d="M47.30,431.10V437.50M45.75,433.21H48.85" stroke="#2a2a2a" stroke-width="0.95" fill="none"/>
<circle cx="39.90" cy="444.64" r="3.1" fill="#3d4a60"/>
<path d="M47.30,440.36V446.76M45.75,442.47H48.85" stroke="#2a2a2a" stroke-width="0.95" fill="none"/>
<circle cx="39.90" cy="453.90" r="3.1" fill="#3d4a60"/>
<path d="M74.50,449.62V456.02M72.95,451.73H76.05" stroke="#2a2a2a" stroke-width="0.95" fill="none"/>
<circle cx="40.40" cy="463.16" r="3.1" fill="#3d4a60"/>
<path d="M46.50,458.88V465.28M44.95,460.99H48.05" stroke="#2a2a2a" stroke-width="0.95" fill="none"/>
<circle cx="40.40" cy="472.42" r="3.1" fill="#3d4a60"/>
<path d="M48.50,468.14V474.54M46.95,470.25H50.05" stroke="#2a2a2a" stroke-width="0.95" fill="none"/>
<circle cx="41.10" cy="481.68" r="3.1" fill="#3d4a60"/>
<path d="M56.90,477.40V483.80M55.35,479.51H58.45" stroke="#2a2a2a" stroke-width="0.95" fill="none"/>
<circle cx="41.60" cy="490.94" r="3.1" fill="#3d4a60"/>
<path d="M49.10,486.66V493.06M47.55,488.77H50.65" stroke="#2a2a2a" stroke-width="0.95" fill="none"/>
<circle cx="43.70" cy="500.20" r="3.1" fill="#3d4a60"/>
<path d="M54.30,495.92V502.32M52.75,498.03H55.85" stroke="#2a2a2a" stroke-width="0.95" fill="none"/>
<circle cx="45.40" cy="509.46" r="3.1" fill="#3d4a60"/>
<path d="M62.00,505.18V511.58M60.45,507.29H63.55" stroke="#2a2a2a" stroke-width="0.95" fill="none"/>
<circle cx="58.40" cy="518.72" r="3.1" fill="#3d4a60"/>
<path d="M84.90,514.44V520.84M83.35,516.55H86.45" stroke="#2a2a2a" stroke-width="0.95" fill="none"/>
<line x1="38.50" y1="402.70" x2="38.50" y2="524.80" stroke="#111" stroke-width="1.3"/>
<line x1="37.90" y1="524.20" x2="190.20" y2="524.20" stroke="#111" stroke-width="1.3"/>
<line x1="38.50" y1="524.20" x2="38.50" y2="526.80" stroke="#111" stroke-width="1.1"/>
<text x="38.50" y="536.70" font-size="7.6" fill="#333" text-anchor="middle">0</text>
<line x1="67.90" y1="524.20" x2="67.90" y2="526.80" stroke="#111" stroke-width="1.1"/>
<text x="67.90" y="536.70" font-size="7.6" fill="#333" text-anchor="middle">2</text>
<line x1="97.30" y1="524.20" x2="97.30" y2="526.80" stroke="#111" stroke-width="1.1"/>
<text x="97.30" y="536.70" font-size="7.6" fill="#333" text-anchor="middle">4</text>
<line x1="126.70" y1="524.20" x2="126.70" y2="526.80" stroke="#111" stroke-width="1.1"/>
<text x="126.70" y="536.70" font-size="7.6" fill="#333" text-anchor="middle">6</text>
<line x1="156.10" y1="524.20" x2="156.10" y2="526.80" stroke="#111" stroke-width="1.1"/>
<text x="156.10" y="536.70" font-size="7.6" fill="#333" text-anchor="middle">8</text>
<line x1="185.50" y1="524.20" x2="185.50" y2="526.80" stroke="#111" stroke-width="1.1"/>
<text x="185.50" y="536.70" font-size="7.6" fill="#333" text-anchor="middle">10</text>
<text x="72.30" y="550.00" font-size="9.2" fill="#1a1a1a" textLength="82.90" lengthAdjust="spacingAndGlyphs" stroke="#1a1a1a" stroke-width="0.3">Time after diagnosis (years)</text>
<text x="308.90" y="332.00" font-size="9.6" fill="#111" textLength="28.40" lengthAdjust="spacingAndGlyphs">Others</text>
<text x="244.20" y="345.05" font-size="7.8" fill="#222" text-anchor="end" stroke="#222" stroke-width="0.18">CR</text>
<rect x="247.70" y="339.20" width="112.70" height="6.2" fill="#b4cfec"/>
<text x="244.20" y="354.32" font-size="7.8" fill="#222" text-anchor="end" stroke="#222" stroke-width="0.18">CR</text>
<rect x="247.70" y="348.47" width="29.60" height="6.2" fill="#b4cfec"/>
<text x="244.20" y="363.59" font-size="7.8" fill="#222" text-anchor="end" stroke="#222" stroke-width="0.18">CR</text>
<rect x="247.70" y="357.74" width="147.30" height="6.2" fill="#b4cfec"/>
<text x="244.20" y="372.86" font-size="7.8" fill="#222" text-anchor="end" stroke="#222" stroke-width="0.18">CR</text>
<rect x="247.70" y="367.01" width="92.80" height="6.2" fill="#b4cfec"/>
<text x="244.20" y="382.13" font-size="7.8" fill="#222" text-anchor="end" stroke="#222" stroke-width="0.18">PR</text>
<rect x="247.70" y="376.28" width="35.30" height="6.2" fill="#b4cfec"/>
<text x="244.20" y="391.40" font-size="7.8" fill="#222" text-anchor="end" stroke="#222" stroke-width="0.18">CR</text>
<rect x="247.70" y="385.55" width="2.30" height="6.2" fill="#b4cfec"/>
<text x="244.20" y="400.67" font-size="7.8" fill="#222" text-anchor="end" stroke="#222" stroke-width="0.18">CR</text>
<rect x="247.70" y="394.82" width="99.80" height="6.2" fill="#b4cfec"/>
<text x="244.20" y="409.94" font-size="7.8" fill="#222" text-anchor="end" stroke="#222" stroke-width="0.18">PR</text>
<rect x="247.70" y="404.09" width="76.60" height="6.2" fill="#b4cfec"/>
<text x="244.20" y="419.21" font-size="7.8" fill="#222" text-anchor="end" stroke="#222" stroke-width="0.18">CR</text>
<rect x="247.70" y="413.36" width="67.30" height="6.2" fill="#b4cfec"/>
<text x="244.20" y="428.48" font-size="7.8" fill="#222" text-anchor="end" stroke="#222" stroke-width="0.18">PR</text>
<rect x="247.70" y="422.63" width="42.80" height="6.2" fill="#b4cfec"/>
<text x="244.20" y="437.75" font-size="7.8" fill="#a4446f" text-anchor="end" stroke="#a4446f" stroke-width="0.18">PD</text>
<rect x="247.70" y="431.90" width="31.20" height="6.2" fill="#b4cfec"/>
<text x="244.20" y="447.02" font-size="7.8" fill="#222" text-anchor="end" stroke="#222" stroke-width="0.18">PR</text>
<rect x="247.70" y="441.17" width="26.90" height="6.2" fill="#b4cfec"/>
<text x="244.20" y="456.29" font-size="7.8" fill="#a4446f" text-anchor="end" stroke="#a4446f" stroke-width="0.18">PD</text>
<text x="244.20" y="465.56" font-size="7.8" fill="#222" text-anchor="end" stroke="#222" stroke-width="0.18">PR</text>
<rect x="247.70" y="459.71" width="62.40" height="6.2" fill="#b4cfec"/>
<text x="244.20" y="474.83" font-size="7.8" fill="#222" text-anchor="end" stroke="#222" stroke-width="0.18">CR</text>
<rect x="247.70" y="468.98" width="9.00" height="6.2" fill="#b4cfec"/>
<text x="244.20" y="484.10" font-size="7.8" fill="#a4446f" text-anchor="end" stroke="#a4446f" stroke-width="0.18">PD</text>
<rect x="247.70" y="478.25" width="47.10" height="6.2" fill="#b4cfec"/>
<text x="244.20" y="493.37" font-size="7.8" fill="#a4446f" text-anchor="end" stroke="#a4446f" stroke-width="0.18">PD</text>
<rect x="247.70" y="487.52" width="94.10" height="6.2" fill="#b4cfec"/>
<text x="244.20" y="502.64" font-size="7.8" fill="#222" text-anchor="end" stroke="#222" stroke-width="0.18">CR</text>
<rect x="247.70" y="496.79" width="55.40" height="6.2" fill="#b4cfec"/>
<text x="244.20" y="511.91" font-size="7.8" fill="#222" text-anchor="end" stroke="#222" stroke-width="0.18">CR</text>
<rect x="247.70" y="506.06" width="40.30" height="6.2" fill="#b4cfec"/>
<text x="244.20" y="521.18" font-size="7.8" fill="#222" text-anchor="end" stroke="#222" stroke-width="0.18">PR</text>
<rect x="247.70" y="515.33" width="15.80" height="6.2" fill="#b4cfec"/>
<circle cx="254.80" cy="351.57" r="3.1" fill="#3d4a60"/>
<circle cx="253.30" cy="388.65" r="3.1" fill="#3d4a60"/>
<circle cx="270.50" cy="397.92" r="3.1" fill="#3d4a60"/>
<circle cx="266.80" cy="407.19" r="3.1" fill="#3d4a60"/>
<circle cx="285.80" cy="416.46" r="3.1" fill="#3d4a60"/>
<path d="M320.00,412.18V418.58M318.45,414.29H321.55" stroke="#2a2a2a" stroke-width="0.95" fill="none"/>
<circle cx="253.30" cy="425.73" r="3.1" fill="#3d4a60"/>
<path d="M296.80,421.45V427.85M295.25,423.56H298.35" stroke="#2a2a2a" stroke-width="0.95" fill="none"/>
<circle cx="249.40" cy="435.00" r="3.1" fill="#3d4a60"/>
<path d="M286.40,430.72V437.12M284.85,432.83H287.95" stroke="#2a2a2a" stroke-width="0.95" fill="none"/>
<circle cx="259.00" cy="444.27" r="3.1" fill="#3d4a60"/>
<path d="M279.80,439.99V446.39M278.25,442.10H281.35" stroke="#2a2a2a" stroke-width="0.95" fill="none"/>
<circle cx="248.10" cy="453.54" r="3.1" fill="#3d4a60"/>
<path d="M254.70,449.26V455.66M253.15,451.37H256.25" stroke="#2a2a2a" stroke-width="0.95" fill="none"/>
<circle cx="248.10" cy="481.35" r="3.1" fill="#3d4a60"/>
<circle cx="249.50" cy="490.62" r="3.1" fill="#3d4a60"/>
<path d="M347.60,486.34V492.74M346.05,488.45H349.15" stroke="#2a2a2a" stroke-width="0.95" fill="none"/>
<circle cx="270.00" cy="499.89" r="3.1" fill="#3d4a60"/>
<path d="M309.20,495.61V502.01M307.65,497.72H310.75" stroke="#2a2a2a" stroke-width="0.95" fill="none"/>
<circle cx="262.80" cy="509.16" r="3.1" fill="#3d4a60"/>
<path d="M293.80,504.88V511.28M292.25,506.99H295.35" stroke="#2a2a2a" stroke-width="0.95" fill="none"/>
<circle cx="261.50" cy="518.43" r="3.1" fill="#3d4a60"/>
<path d="M269.70,514.15V520.55M268.15,516.26H271.25" stroke="#2a2a2a" stroke-width="0.95" fill="none"/>
<line x1="247.20" y1="337.30" x2="247.20" y2="524.80" stroke="#111" stroke-width="1.3"/>
<line x1="246.60" y1="524.20" x2="398.50" y2="524.20" stroke="#111" stroke-width="1.3"/>
<line x1="247.20" y1="524.20" x2="247.20" y2="526.80" stroke="#111" stroke-width="1.1"/>
<text x="247.20" y="536.70" font-size="7.6" fill="#333" text-anchor="middle">0</text>
<line x1="276.96" y1="524.20" x2="276.96" y2="526.80" stroke="#111" stroke-width="1.1"/>
<text x="276.96" y="536.70" font-size="7.6" fill="#333" text-anchor="middle">2</text>
<line x1="306.72" y1="524.20" x2="306.72" y2="526.80" stroke="#111" stroke-width="1.1"/>
<text x="306.72" y="536.70" font-size="7.6" fill="#333" text-anchor="middle">4</text>
<line x1="336.48" y1="524.20" x2="336.48" y2="526.80" stroke="#111" stroke-width="1.1"/>
<text x="336.48" y="536.70" font-size="7.6" fill="#333" text-anchor="middle">6</text>
<line x1="366.24" y1="524.20" x2="366.24" y2="526.80" stroke="#111" stroke-width="1.1"/>
<text x="366.24" y="536.70" font-size="7.6" fill="#333" text-anchor="middle">8</text>
<line x1="396.00" y1="524.20" x2="396.00" y2="526.80" stroke="#111" stroke-width="1.1"/>
<text x="396.00" y="536.70" font-size="7.6" fill="#333" text-anchor="middle">10</text>
<text x="281.50" y="549.30" font-size="9.2" fill="#1a1a1a" textLength="82.40" lengthAdjust="spacingAndGlyphs" stroke="#1a1a1a" stroke-width="0.3">Time after diagnosis (years)</text>
<line x1="226.00" y1="337.30" x2="226.00" y2="355.80" stroke="#2c3b5e" stroke-width="2.0"/>
<line x1="226.00" y1="355.80" x2="226.00" y2="458.20" stroke="#9a226c" stroke-width="2.0"/>
<line x1="226.00" y1="458.20" x2="226.00" y2="522.90" stroke="#c0963a" stroke-width="2.0"/>
<text x="210.60" y="349.80" font-size="8.2" fill="#7d86a6" textLength="11.50" lengthAdjust="spacingAndGlyphs">BD</text>
<text x="200.80" y="410.00" font-size="8.2" fill="#9a4b8e" textLength="21.10" lengthAdjust="spacingAndGlyphs">B-only</text>
<text x="194.00" y="494.00" font-size="8.2" fill="#d0a448" textLength="28.10" lengthAdjust="spacingAndGlyphs">DC-only</text>
<rect x="0.72" y="0.6" width="518.58" height="558.7" fill="none" stroke="#000" stroke-width="1.4"/>
</svg></body></html>
